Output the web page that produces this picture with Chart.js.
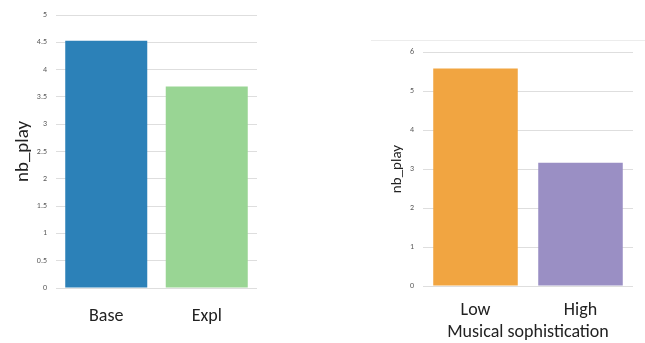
<!DOCTYPE html>
<html>
<head>
<meta charset="utf-8">
<script src="https://cdn.jsdelivr.net/npm/chart.js@4/dist/chart.umd.min.js"></script>
<style>
  html, body { margin: 0; padding: 0; background: #fff; }
  body { width: 645px; height: 343px; position: relative; overflow: hidden; }
  #left { position: absolute; left: 0; top: 0; }
  #right { position: absolute; left: 370px; top: 0; }
  #rule { position: absolute; left: 371px; top: 40px; width: 274px; border-top: 1px solid #ececec; }
</style>
</head>
<body>
<canvas id="left" width="270" height="343"></canvas>
<div id="rule"></div>
<canvas id="right" width="275" height="343"></canvas>
<script>
// condition chart
const condLabels = ['Base', 'Expl'];
const condValues = [4.53, 3.69];
const condColors = ['#2C81B8', '#99D594'];

// musical sophistication chart
const sophLabels = ['Low', 'High'];
const sophValues = [5.58, 3.16];
const sophColors = ['#F1A541', '#9A8FC4'];

const FONT = 'Carlito, Lato, "Open Sans", sans-serif';
const gridColor = '#dedede';
const tickColor = '#595959';

function makeChart(id, labels, values, colors, opts) {
    const ctx = document.getElementById(id).getContext('2d');
    return new Chart(ctx, {
        type: 'bar',
        data: {
            labels: labels,
            datasets: [{
                data: values,
                backgroundColor: colors,
                barPercentage: opts.barPct,
                categoryPercentage: 1
            }]
        },
        options: {
            responsive: false,
            animation: false,
            layout: { padding: opts.padding },
            plugins: { legend: { display: false }, tooltip: { enabled: false } },
            scales: {
                x: {
                    grid: { display: false },
                    border: { display: false },
                    ticks: { color: '#222', font: { family: FONT, size: 18 }, padding: opts.xPad },
                    title: {
                        display: !!opts.xTitle,
                        text: opts.xTitle || '',
                        color: '#222',
                        font: { family: FONT, size: 18 },
                        padding: { top: 0, bottom: 0 }
                    },
                    afterFit: (s) => { s.height = opts.xHeight; }
                },
                y: {
                    min: 0,
                    max: opts.yMax,
                    grid: { color: gridColor, lineWidth: 1, drawTicks: false },
                    border: { display: false },
                    ticks: {
                        stepSize: opts.step,
                        color: tickColor,
                        font: { family: FONT, size: 8 },
                        padding: 9,
                        callback: (v) => String(Number(v.toFixed(1)))
                    },
                    title: {
                        display: true,
                        text: 'nb_play',
                        color: '#222',
                        font: { family: FONT, size: opts.yTitleSize },
                        padding: { top: opts.yTitlePad, bottom: 0 }
                    },
                    afterFit: (s) => { s.width = opts.yWidth; }
                }
            }
        }
    });
}

makeChart('left', condLabels, condValues, condColors, {
    barPct: 0.816,
    padding: { top: 15, right: 13, bottom: 0, left: 0 },
    xPad: 10, xHeight: 55,
    yMax: 5, step: 0.5,
    yTitleSize: 19, yTitlePad: 12, yWidth: 56
});

makeChart('right', sophLabels, sophValues, sophColors, {
    barPct: 0.805,
    padding: { top: 52, right: 12, bottom: 0, left: 0 },
    xPad: 6, xHeight: 57, xTitle: 'Musical sophistication',
    yMax: 6, step: 1,
    yTitleSize: 15, yTitlePad: 18, yWidth: 53
});
</script>
</body>
</html>
